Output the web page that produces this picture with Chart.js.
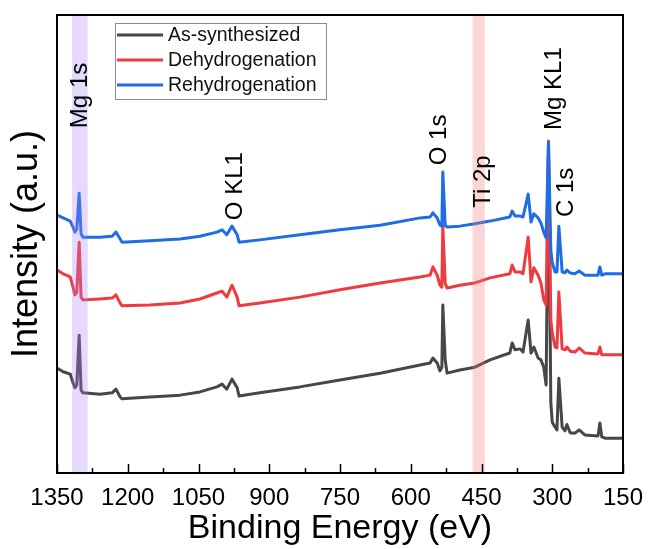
<!DOCTYPE html>
<html>
<head>
<meta charset="utf-8">
<title>XPS survey</title>
<script src="https://cdn.jsdelivr.net/npm/chart.js@4.4.1/dist/chart.umd.min.js"></script>
<style>
  html, body { margin: 0; padding: 0; background: #fff; }
  #chart { display: block; }
</style>
</head>
<body>
<canvas id="chart" width="648" height="549"></canvas>
<script>
// Binding energies (eV) shared by the three spectra
const energy = [1350, 1337, 1322, 1316, 1312, 1308, 1303, 1299, 1295, 1259, 1233, 1225, 1216, 1212,
    1153, 1089, 1047, 1011, 1000, 990, 979, 968, 964, 920, 835, 750, 665, 580, 559, 553, 544, 538,
    534, 532, 527, 523, 496, 464, 432, 390, 385, 379, 368, 362, 351, 345, 339, 330, 324, 318, 313,
    308, 303, 300, 294, 290, 286, 279, 273, 269, 262, 252, 243, 231, 203, 199, 195, 188, 150];

// Intensities (a.u., offset stacked)
const asSynthesized = [22.9, 22.1, 21.6, 19.7, 18.6, 19.2, 30.1, 18.1, 17.5, 17.2, 17.5, 18.3, 16.6, 16.2,
    16.6, 17.0, 17.7, 18.8, 19.4, 18.3, 20.5, 18.6, 16.8, 17.5, 18.8, 20.3, 21.8, 23.6, 24.0, 25.1, 24.0, 22.3,
    23.1, 36.7, 24.7, 21.8, 22.5, 23.1, 24.7, 26.2, 28.4, 26.9, 27.1, 26.4, 33.4, 26.2, 27.5, 25.1, 24.7, 23.1, 19.2,
    70.5, 15.3, 11.1, 10.0, 9.4, 20.7, 10.0, 9.2, 10.6, 8.8, 8.7, 9.4, 8.3, 8.1, 10.9, 7.9, 7.6, 7.6];

const dehydrogenation = [44.3, 43.5, 42.8, 40.6, 38.9, 39.5, 50.4, 38.4, 37.8, 38.0, 38.2, 38.9, 37.1, 36.5,
    36.7, 37.1, 38.0, 39.3, 39.7, 38.4, 41.0, 38.4, 36.5, 37.1, 38.4, 40.0, 41.5, 42.8, 43.2, 45.0, 43.2, 41.0,
    40.6, 53.9, 41.5, 40.4, 41.0, 41.5, 42.6, 43.5, 45.4, 43.9, 43.9, 43.5, 51.5, 41.7, 44.8, 43.2, 41.5, 37.8, 36.7,
    72.5, 33.4, 30.6, 27.5, 27.3, 39.5, 27.1, 26.9, 27.5, 26.6, 26.4, 27.3, 26.2, 26.0, 27.5, 25.8, 25.8, 25.8];

const rehydrogenation = [56.3, 55.7, 55.0, 53.7, 52.6, 53.3, 61.1, 52.2, 51.5, 51.5, 51.7, 52.6, 51.1, 50.4,
    50.7, 51.1, 51.7, 52.6, 53.1, 52.0, 53.9, 52.0, 50.4, 50.9, 52.0, 53.1, 54.1, 55.7, 55.9, 56.8, 55.7, 54.1,
    53.9, 65.7, 54.1, 53.7, 53.9, 54.4, 55.0, 55.9, 57.2, 56.1, 56.1, 55.9, 60.9, 54.8, 56.6, 55.7, 54.6, 52.6, 51.3,
    72.3, 48.7, 45.9, 43.9, 43.9, 53.9, 43.9, 43.7, 44.3, 43.7, 43.5, 44.1, 43.2, 43.2, 45.0, 43.2, 43.5, 43.5];

const seriesNames = ['As-synthesized', 'Dehydrogenation', 'Rehydrogenation'];
const seriesColors = ['#474747', '#ef3b3f', '#1e6de3'];

// Axis ticks
const xMajorTicks = [1350, 1200, 1050, 900, 750, 600, 450, 300, 150];
const xMinorTicks = [1275, 1125, 975, 825, 675, 525, 375, 225];

// Shaded regions (eV)
const bandNames = ['Mg 1s', 'Ti 2p'];
const bandFrom = [1318, 469];
const bandTo = [1285, 443];
const bandColors = ['rgba(170,130,245,0.3)', 'rgba(245,120,120,0.3)'];

// Peak labels: energy of the label and intensity where the rotated text starts
const peakNames = ['Mg 1s', 'O KL1', 'O 1s', 'Ti 2p', 'Mg KL1', 'C 1s'];
const peakEnergy = [1303, 973, 542, 449, 298, 273];
const peakBase = [75.3, 55.2, 67.2, 57.9, 74.9, 55.9];

const FONT = '"Liberation Sans", Arial, sans-serif';

function toPoints(ys) {
    return energy.map((e, i) => ({ x: e, y: ys[i] }));
}

const allSeries = [asSynthesized, dehydrogenation, rehydrogenation];

// bands, frame, ticks, labels and legend drawn on top of the spectra
const decorPlugin = {
    id: 'decor',
    afterDatasetsDraw(chart) {
        const { ctx, chartArea: a, scales: { x, y } } = chart;
        ctx.save();

        // translucent bands over the lines
        ctx.beginPath();
        ctx.rect(a.left, a.top, a.right - a.left, a.bottom - a.top);
        ctx.clip();
        bandFrom.forEach((from, i) => {
            const x1 = x.getPixelForValue(from);
            const x2 = x.getPixelForValue(bandTo[i]);
            ctx.fillStyle = bandColors[i];
            ctx.fillRect(Math.min(x1, x2), a.top, Math.abs(x2 - x1), a.bottom - a.top);
        });
        ctx.restore();

        ctx.save();
        // inward tick marks on the bottom axis
        ctx.strokeStyle = '#000';
        ctx.lineWidth = 1.5;
        ctx.beginPath();
        xMajorTicks.forEach(v => {
            const px = Math.round(x.getPixelForValue(v)) + 0.5;
            ctx.moveTo(px, a.bottom);
            ctx.lineTo(px, a.bottom - 9);
        });
        xMinorTicks.forEach(v => {
            const px = Math.round(x.getPixelForValue(v)) + 0.5;
            ctx.moveTo(px, a.bottom);
            ctx.lineTo(px, a.bottom - 5);
        });
        ctx.stroke();

        // frame
        ctx.lineWidth = 2;
        ctx.strokeRect(a.left, a.top, a.right - a.left, a.bottom - a.top);

        // tick labels
        ctx.fillStyle = '#000';
        ctx.font = `24px ${FONT}`;
        ctx.textAlign = 'center';
        ctx.textBaseline = 'alphabetic';
        xMajorTicks.forEach(v => {
            ctx.fillText(String(v), x.getPixelForValue(v), a.bottom + 32);
        });

        // rotated peak labels
        ctx.textAlign = 'left';
        ctx.textBaseline = 'middle';
        peakNames.forEach((name, i) => {
            ctx.save();
            ctx.translate(x.getPixelForValue(peakEnergy[i]), y.getPixelForValue(peakBase[i]));
            ctx.rotate(-Math.PI / 2);
            ctx.fillText(name, 0, 1);
            ctx.restore();
        });

        // legend box
        const lx = 115, ly = 23, lw = 211, lh = 76;
        ctx.fillStyle = '#fff';
        ctx.fillRect(lx, ly, lw, lh);
        ctx.strokeStyle = '#8c8c8c';
        ctx.lineWidth = 1;
        ctx.strokeRect(lx + 0.5, ly + 0.5, lw, lh);
        ctx.font = `19.5px ${FONT}`;
        ctx.textBaseline = 'middle';
        seriesNames.forEach((name, i) => {
            const ry = ly + 12 + i * 25;
            ctx.strokeStyle = seriesColors[i];
            ctx.lineWidth = 3;
            ctx.beginPath();
            ctx.moveTo(lx + 2, ry);
            ctx.lineTo(lx + 48, ry);
            ctx.stroke();
            ctx.fillStyle = '#111';
            ctx.fillText(name, lx + 53, ry + 1);
        });
        ctx.restore();
    }
};

new Chart(document.getElementById('chart'), {
    type: 'line',
    data: {
        datasets: allSeries.map((ys, i) => ({
            label: seriesNames[i],
            data: toPoints(ys),
            borderColor: seriesColors[i],
            backgroundColor: seriesColors[i],
            borderWidth: 3,
            pointRadius: 0,
            tension: 0,
            borderJoinStyle: 'round',
            order: allSeries.length - i
        }))
    },
    options: {
        responsive: false,
        devicePixelRatio: 1,
        animation: false,
        layout: { autoPadding: false, padding: { top: 15, right: 25, left: 0, bottom: 0 } },
        plugins: {
            legend: { display: false },
            tooltip: { enabled: false }
        },
        scales: {
            x: {
                type: 'linear',
                reverse: true,
                min: 150,
                max: 1350,
                afterFit: s => { s.height = 76; },
                grid: { display: false, drawTicks: false },
                border: { display: false },
                ticks: { display: false },
                title: {
                    display: true,
                    text: 'Binding Energy (eV)',
                    color: '#000',
                    font: { family: FONT, size: 34 },
                    padding: { top: 0, bottom: 0 }
                }
            },
            y: {
                min: 0,
                max: 100,
                afterFit: s => { s.width = 57; },
                grid: { display: false, drawTicks: false },
                border: { display: false },
                ticks: { display: false },
                title: {
                    display: true,
                    text: 'Intensity (a.u.)',
                    color: '#000',
                    font: { family: FONT, size: 36 },
                    padding: { top: 5, bottom: 0 }
                }
            }
        }
    },
    plugins: [decorPlugin]
});
</script>
</body>
</html>
